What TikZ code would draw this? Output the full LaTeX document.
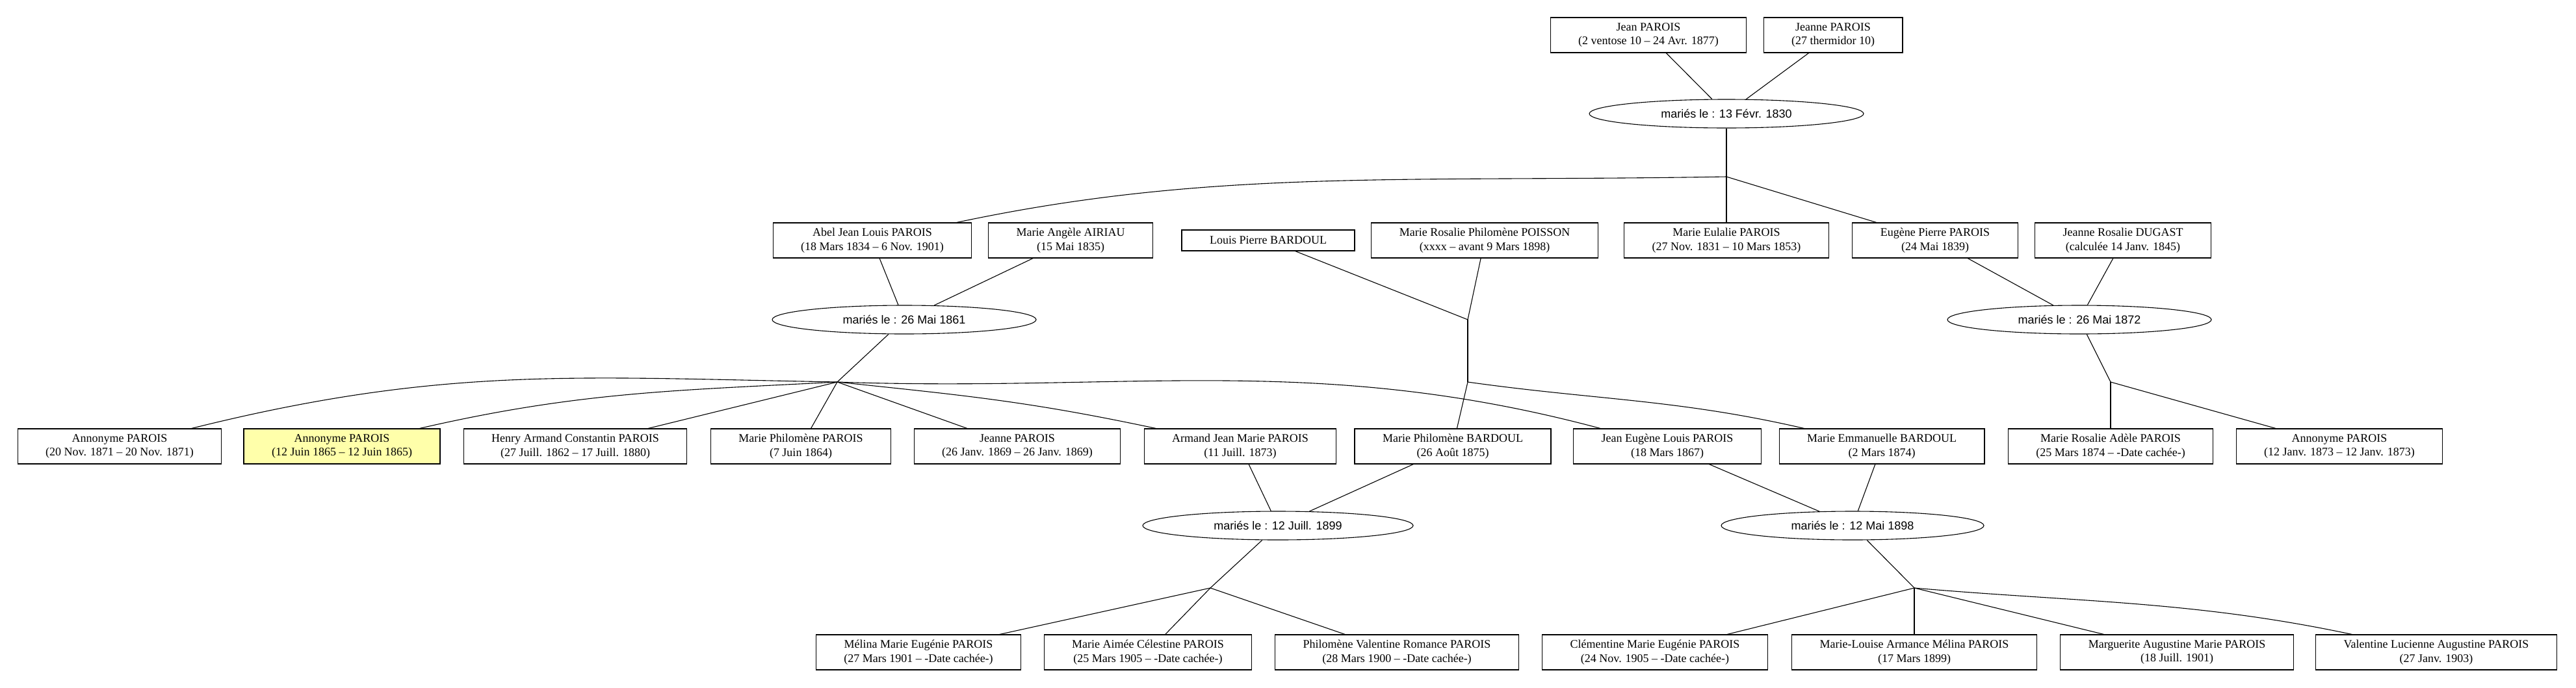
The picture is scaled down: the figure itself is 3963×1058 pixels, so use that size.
\documentclass[tikz,border=0pt]{standalone}
\usepackage{fontspec}
\setmainfont{Liberation Serif}
\setsansfont{Liberation Sans}
\usetikzlibrary{shapes.geometric}
\definecolor{hilite}{RGB}{255,255,170}
\tikzset{
  person/.style={draw, rectangle, align=center, inner xsep=43pt, inner ysep=0pt,
    minimum height=54pt, line width=1.1pt, font=\fontsize{18}{21.5}\selectfont},
  single/.style={person, minimum height=32pt},
  union/.style={draw, ellipse, inner sep=0pt, minimum height=44pt, line width=1.1pt,
    font=\sffamily\fontsize{18}{21.5}\selectfont},
  link/.style={line width=1.1pt}
}
\begin{document}
\begin{tikzpicture}[x=1pt, y=-1pt]
  \useasboundingbox (0,0) rectangle (3963,1058);

  \node[person] (jean) at (2536,54) {Jean PAROIS\\(2 ventose 10 – 24 Avr. 1877)};
  \node[person] (jeanne) at (2820,54) {Jeanne PAROIS\\(27 thermidor 10)};
  \node[union, minimum width=422pt] (m1830) at (2656,175) {mariés le : 13 Févr. 1830};
  \coordinate (j1830) at (2656,272);
  \draw[link] (jean) -- (m1830);
  \draw[link] (jeanne) -- (m1830);
  \draw[link] (m1830) -- (j1830);

  \node[person] (abel) at (1342,370) {Abel Jean Louis PAROIS\\(18 Mars 1834 – 6 Nov. 1901)};
  \node[person] (airiau) at (1647,370) {Marie Angèle AIRIAU\\(15 Mai 1835)};
  \node[single] (louisp) at (1951,370) {Louis Pierre BARDOUL};
  \node[person] (poisson) at (2284,370) {Marie Rosalie Philomène POISSON\\(xxxx – avant 9 Mars 1898)};
  \node[person] (eulalie) at (2656,370) {Marie Eulalie PAROIS\\(27 Nov. 1831 – 10 Mars 1853)};
  \node[person] (eugene) at (2977,370) {Eugène Pierre PAROIS\\(24 Mai 1839)};
  \node[person] (dugast) at (3266,370) {Jeanne Rosalie DUGAST\\(calculée 14 Janv. 1845)};
  \draw[link] (j1830) .. controls +(-181:500) and +(-12:400) .. (abel.12);
  \draw[link] (j1830) -- (eulalie);
  \draw[link] (j1830) -- (eugene);

  \node[union, minimum width=406pt] (m1861) at (1391,492) {mariés le : 26 Mai 1861};
  \coordinate (pB) at (2258,492);
  \node[union, minimum width=406pt] (m1872) at (3199,492) {mariés le : 26 Mai 1872};
  \coordinate (j1861) at (1288,588);
  \coordinate (jB) at (2258,588);
  \coordinate (j1872) at (3247,588);
  \draw[link] (abel) -- (m1861);
  \draw[link] (airiau) -- (m1861);
  \draw[link] (m1861) -- (j1861);
  \draw[link] (louisp) -- (pB);
  \draw[link] (poisson) -- (pB);
  \draw[link] (pB) -- (jB);
  \draw[link] (eugene) -- (m1872);
  \draw[link] (dugast) -- (m1872);
  \draw[link] (m1872) -- (j1872);

  \node[person] (anon71) at (184,687) {Annonyme PAROIS\\(20 Nov. 1871 – 20 Nov. 1871)};
  \node[person, fill=hilite] (anon65) at (526,687) {Annonyme PAROIS\\(12 Juin 1865 – 12 Juin 1865)};
  \node[person] (henry) at (885,687) {Henry Armand Constantin PAROIS\\(27 Juill. 1862 – 17 Juill. 1880)};
  \node[person] (mphilp) at (1232,687) {Marie Philomène PAROIS\\(7 Juin 1864)};
  \node[person] (jeanne2) at (1565,687) {Jeanne PAROIS\\(26 Janv. 1869 – 26 Janv. 1869)};
  \node[person] (armand) at (1908,687) {Armand Jean Marie PAROIS\\(11 Juill. 1873)};
  \node[person] (mphilb) at (2235,687) {Marie Philomène BARDOUL\\(26 Août 1875)};
  \node[person] (jeaneug) at (2565,687) {Jean Eugène Louis PAROIS\\(18 Mars 1867)};
  \node[person] (memm) at (2895,687) {Marie Emmanuelle BARDOUL\\(2 Mars 1874)};
  \node[person] (mrosa) at (3247,687) {Marie Rosalie Adèle PAROIS\\(25 Mars 1874 – -Date cachée-)};
  \node[person] (anon73) at (3599,687) {Annonyme PAROIS\\(12 Janv. 1873 – 12 Janv. 1873)};
  \draw[link] (j1861) .. controls +(-179:400) and +(-14:400) .. (anon71.14);
  \draw[link] (j1861) .. controls +(-183:250) and +(-13:250) .. (anon65.13);
  \draw[link] (j1861) -- (henry);
  \draw[link] (j1861) -- (mphilp);
  \draw[link] (j1861) -- (jeanne2);
  \draw[link] (j1861) .. controls +(6:200) and +(-168:200) .. (armand.168);
  \draw[link] (j1861) .. controls +(2:450) and +(-165:450) .. (jeaneug.165);
  \draw[link] (jB) -- (mphilb);
  \draw[link] (jB) .. controls +(8:200) and +(-167:200) .. (memm.167);
  \draw[link] (j1872) -- (mrosa);
  \draw[link] (j1872) -- (anon73);

  \node[union, minimum width=416pt] (m1899) at (1966,809) {mariés le : 12 Juill. 1899};
  \node[union, minimum width=404pt] (m1898) at (2850,809) {mariés le : 12 Mai 1898};
  \coordinate (j1899) at (1862,905);
  \coordinate (j1898) at (2945,905);
  \draw[link] (armand) -- (m1899);
  \draw[link] (mphilb) -- (m1899);
  \draw[link] (m1899) -- (j1899);
  \draw[link] (jeaneug) -- (m1898);
  \draw[link] (memm) -- (m1898);
  \draw[link] (m1898) -- (j1898);

  \node[person] (melina) at (1413,1004) {Mélina Marie Eugénie PAROIS\\(27 Mars 1901 – -Date cachée-)};
  \node[person] (maimee) at (1766,1004) {Marie Aimée Célestine PAROIS\\(25 Mars 1905 – -Date cachée-)};
  \node[person] (philval) at (2149,1004) {Philomène Valentine Romance PAROIS\\(28 Mars 1900 – -Date cachée-)};
  \node[person] (clem) at (2546,1004) {Clémentine Marie Eugénie PAROIS\\(24 Nov. 1905 – -Date cachée-)};
  \node[person] (mlouise) at (2945,1004) {Marie-Louise Armance Mélina PAROIS\\(17 Mars 1899)};
  \node[person] (marg) at (3349,1004) {Marguerite Augustine Marie PAROIS\\(18 Juill. 1901)};
  \node[person] (valluc) at (3748,1004) {Valentine Lucienne Augustine PAROIS\\(27 Janv. 1903)};
  \draw[link] (j1899) -- (melina);
  \draw[link] (j1899) -- (maimee);
  \draw[link] (j1899) -- (philval);
  \draw[link] (j1898) -- (clem);
  \draw[link] (j1898) -- (mlouise);
  \draw[link] (j1898) -- (marg);
  \draw[link] (j1898) .. controls +(5:250) and +(-168:250) .. (valluc.168);
\end{tikzpicture}
\end{document}
